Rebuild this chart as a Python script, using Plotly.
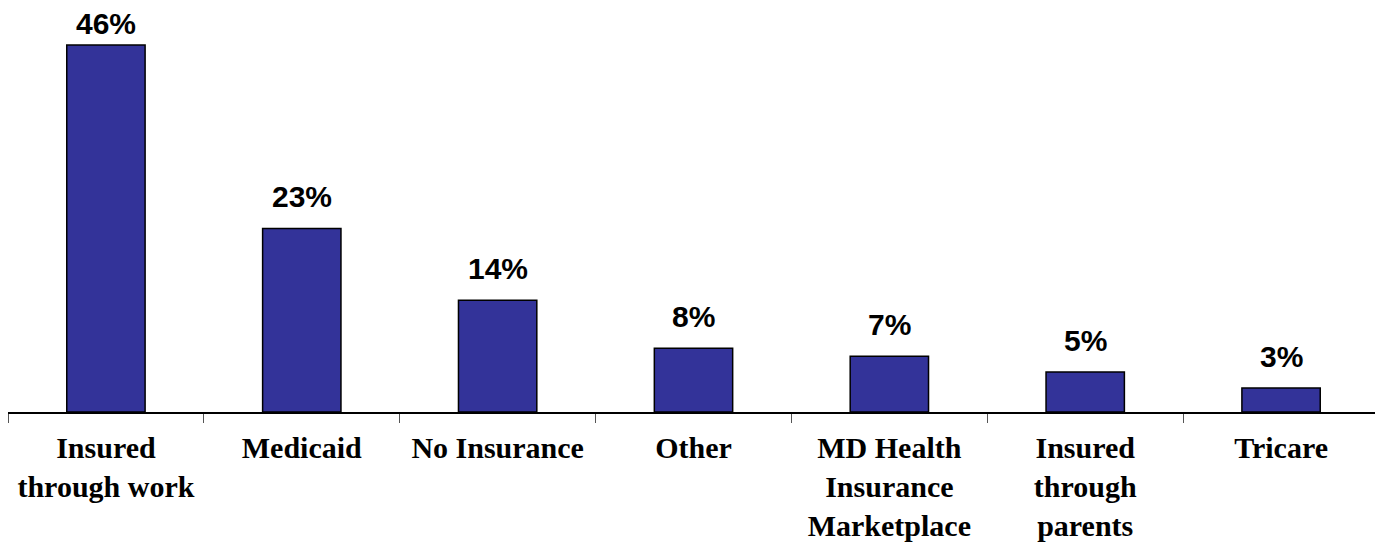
import plotly.graph_objects as go

categories = ["Insured<br>through work", "Medicaid", "No Insurance", "Other",
              "MD Health<br>Insurance<br>Marketplace", "Insured<br>through<br>parents", "Tricare"]
values = [46, 23, 14, 8, 7, 5, 3]
labels = ["46%", "23%", "14%", "8%", "7%", "5%", "3%"]

fig = go.Figure()
fig.add_trace(go.Bar(
    x=categories, y=values,
    marker=dict(color="#333399", line=dict(color="#000000", width=1.5)),
    width=0.4,
))
vmax = max(values)
for c, v, t in zip(categories, values, labels):
    # label sits ~20px above the bar, except the tallest one which is held below the top edge
    shift = 3 if v == vmax else 13
    fig.add_annotation(x=c, y=v, text="<b>%s</b>" % t, showarrow=False,
                       yanchor="bottom", yshift=shift,
                       font=dict(family="Liberation Sans, Arial", size=30, color="#000"))

fig.update_layout(
    width=1383, height=542,
    margin=dict(l=0, r=12, t=5, b=138),
    paper_bgcolor="white", plot_bgcolor="white",
    showlegend=False,
    xaxis=dict(
        type="category", showline=True, linecolor="#000", linewidth=1.5,
        ticks="outside", tickson="boundaries", ticklen=9, tickcolor="#555", tickwidth=1,
        tickfont=dict(family="Liberation Serif, Times New Roman", size=30, color="#000"),
        tickangle=0, showgrid=False, automargin=False,
        ticklabelstandoff=8,
        range=[-0.5, 6.5],
    ),
    yaxis=dict(range=[0, 50], visible=False, showgrid=False, zeroline=False),
)
fig.update_xaxes(ticktext=["<b>%s</b>" % c for c in categories], tickvals=categories)

fig.write_html("out.html")
